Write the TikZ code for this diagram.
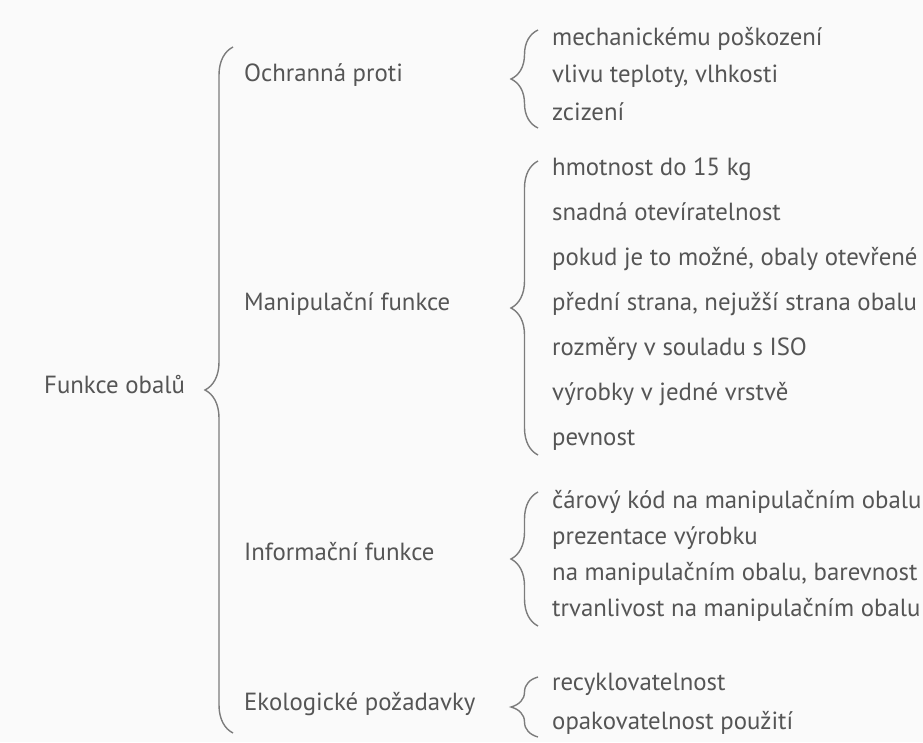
\documentclass[tikz,border=0pt]{standalone}
\usepackage{fontspec}
\setmainfont{PT Sans}
\usetikzlibrary{decorations.pathreplacing}
\definecolor{txt}{HTML}{555555}
\definecolor{brcol}{HTML}{7C7C7C}
\definecolor{bg}{HTML}{FAFAFA}
\begin{document}
\begin{tikzpicture}[x=1pt,y=-1pt,
  lbl/.style={anchor=west, inner xsep=0pt, inner ysep=0pt, text height=1ex, text depth=0pt, text=txt, font=\fontsize{24.8}{28}\selectfont},
  curly/.style={draw=brcol, line width=1.4pt, decorate, decoration={brace, amplitude=#1}}
]
\fill[bg] (0,0) rectangle (923,742);
\useasboundingbox (0,0) rectangle (923,742);

% root
\node[lbl] (root) at (44,391) {Funkce obalů};
\coordinate (mTop) at (233,47);
\coordinate (mBot) at (233,733);
\draw[curly=28pt] (mBot) -- (mTop);

% categories
\node[lbl] (c1) at (244,79) {Ochranná proti};
\node[lbl] (c2) at (244,308) {Manipulační funkce};
\node[lbl] (c3) at (244,558) {Informační funkce};
\node[lbl] (c4) at (244,708) {Ekologické požadavky};

% group 1
\coordinate (b1t) at (538,30);
\coordinate (b1b) at (538,128);
\draw[curly=27pt] (b1b) -- (b1t);
\node[lbl] (i11) at (552,43) {mechanickému poškození};
\node[lbl] (i12) at (552,80) {vlivu teploty, vlhkosti};
\node[lbl] (i13) at (552,118) {zcizení};

% group 2
\coordinate (b2t) at (538,161);
\coordinate (b2b) at (538,455);
\draw[curly=27pt] (b2b) -- (b2t);
\node[lbl] (i21) at (552,173) {hmotnost do 15 kg};
\node[lbl] (i22) at (552,218) {snadná otevíratelnost};
\node[lbl] (i23) at (552,263) {pokud je to možné, obaly otevřené};
\node[lbl] (i24) at (552,308) {přední strana, nejužší strana obalu};
\node[lbl] (i25) at (552,353) {rozměry v souladu s ISO};
\node[lbl] (i26) at (552,398) {výrobky v jedné vrstvě};
\node[lbl] (i27) at (552,443) {pevnost};

% group 3
\coordinate (b3t) at (538,492);
\coordinate (b3b) at (538,626);
\draw[curly=27pt] (b3b) -- (b3t);
\node[lbl] (i31) at (552,506) {čárový kód na manipulačním obalu};
\node[lbl] (i32) at (552,542) {prezentace výrobku};
\node[lbl] (i33) at (552,578) {na manipulačním obalu, barevnost};
\node[lbl] (i34) at (552,614) {trvanlivost na manipulačním obalu};

% group 4
\coordinate (b4t) at (538,677);
\coordinate (b4b) at (538,737);
\draw[curly=27pt] (b4b) -- (b4t);
\node[lbl] (i41) at (552,688) {recyklovatelnost};
\node[lbl] (i42) at (552,727) {opakovatelnost použití};
\end{tikzpicture}
\end{document}
